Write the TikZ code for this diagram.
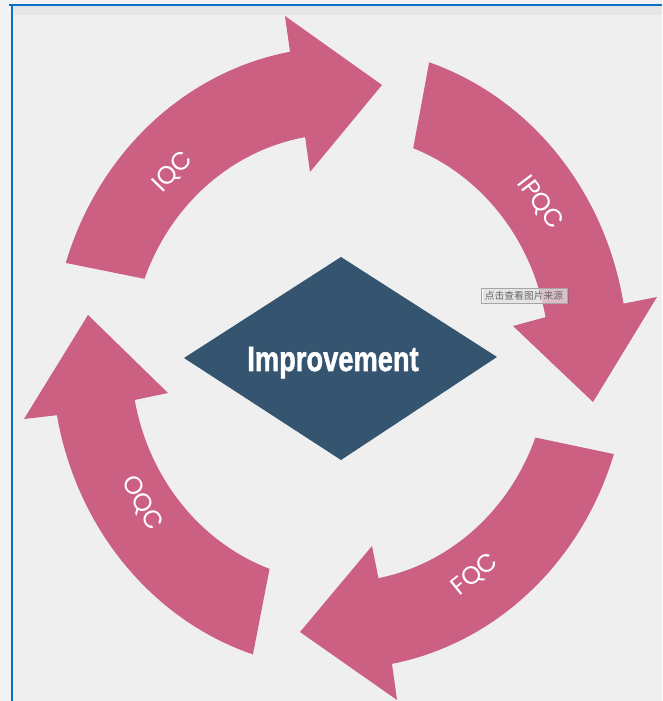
\documentclass[tikz,border=0pt]{standalone}
\usepackage{fontspec}
\setmainfont{Liberation Sans}
\newfontfamily\labelfont{Poppins}
\newfontfamily\impfont[BoldFeatures={FakeBold=1.6}]{Liberation Sans}
\newfontfamily\cjkfont{Noto Sans CJK SC}
\usetikzlibrary{shadows}
\definecolor{pagebg}{HTML}{F3F3F3}
\definecolor{canvasbg}{HTML}{EFEFEF}
\definecolor{bandbg}{HTML}{E5E5E5}
\definecolor{frameblue}{HTML}{0A72C6}
\definecolor{arrowpink}{HTML}{CC6083}
\definecolor{diamondblue}{HTML}{345470}
\tikzset{
  ringarrow/.style={fill=arrowpink},
  lbl/.style={text=white, font=\labelfont\fontsize{25}{25}\selectfont, inner sep=0pt},
  tipbox/.style={draw=gray!70, fill=white, fill opacity=0.6, text opacity=1, text=black!60,
    font=\cjkfont\fontsize{9.8}{10}\selectfont, inner sep=1pt, minimum width=86pt, minimum height=15pt,
    drop shadow={shadow xshift=1.5pt, shadow yshift=-1.5pt, opacity=0.35, fill=black!60}},
}
\def\cx{340}
\def\cy{343}
\begin{document}
\begin{tikzpicture}[x=1pt,y=1pt]
\useasboundingbox (0,0) rectangle (662,701);
\fill[pagebg] (0,0) rectangle (662,701);
\fill[canvasbg] (12,0) rectangle (662,696);
\fill[bandbg] (12,686) rectangle (662,696);
\draw[frameblue, line width=2.2pt] (9,696) -- (662,696);
\draw[frameblue, line width=2.6pt] (12,697) -- (12,0);
% IQC arrow
\fill[ringarrow] plot[domain=162.2:100, samples=40] ({\cx+288*cos(\x)},{\cy+311*sin(\x)})
  -- (285,685) -- (382,616) -- (310,529)
  -- plot[domain=99.6:159.3, samples=40] ({\cx+209*cos(\x)},{\cy+224*sin(\x)}) -- cycle;
% IPQC arrow
\fill[ringarrow] plot[domain=71.96:10.07, samples=40] ({\cx+288*cos(\x)},{\cy+311*sin(\x)})
  -- (657,404) -- (593,299) -- (513,375)
  -- plot[domain=10.5:69.5, samples=40] ({\cx+209*cos(\x)},{\cy+224*sin(\x)}) -- cycle;
% FQC arrow
\fill[ringarrow] plot[domain=-18:-79.6, samples=40] ({\cx+288*cos(\x)},{\cy+311*sin(\x)})
  -- (397,1) -- (300,69) -- (372,155)
  -- plot[domain=-79.4:-20.8, samples=40] ({\cx+209*cos(\x)},{\cy+224*sin(\x)}) -- cycle;
% OQC arrow
\fill[ringarrow] plot[domain=252.4:190.6, samples=40] ({\cx+288*cos(\x)},{\cy+311*sin(\x)})
  -- (24,282) -- (88,386) -- (168,308)
  -- plot[domain=190.8:250.3, samples=40] ({\cx+209*cos(\x)},{\cy+224*sin(\x)}) -- cycle;
% diamond
\fill[diamondblue] (184,343) -- (341,444) -- (497,344) -- (341,241) -- cycle;
\node[anchor=base, text=white, inner sep=0pt] (imp) at (333,330)
  {\scalebox{0.78}[1]{\impfont\fontsize{35}{35}\selectfont\bfseries Improvement}};
% labels
\node[lbl, rotate=46] (iqc) at (173,529) {IQC};
\node[lbl, rotate=-53] (ipqc) at (540,498) {IPQC};
\node[lbl, rotate=39] (fqc) at (475,126) {FQC};
\node[lbl, rotate=-60] (oqc) at (142,198) {OQC};
% tooltip
\node[tipbox] (src) at (524,405.5) {点击查看图片来源};
\end{tikzpicture}
\end{document}
